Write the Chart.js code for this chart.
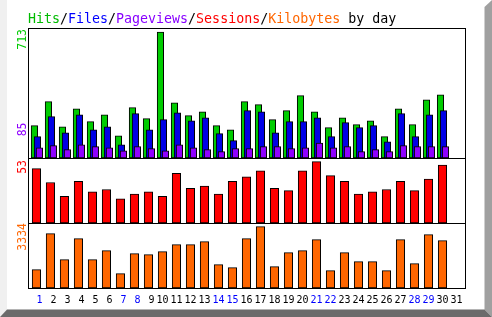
<!DOCTYPE html>
<html>
<head>
<meta charset="utf-8">
<title>Hits/Files/Pageviews/Sessions/Kilobytes by day</title>
<script src="https://cdn.jsdelivr.net/npm/chart.js@4/dist/chart.umd.min.js"></script>
<style>
html, body { margin: 0; padding: 0; background: #fff; }
#wrap { position: relative; width: 492px; height: 317px; overflow: hidden; }
.edge { position: absolute; left: 0; top: 0; width: 492px; height: 317px; }
#edgeLeft { background: #f0f0f0; clip-path: polygon(0 0, 7px 0, 7px 309.5px, 0 317px); }
#edgeRight { background: #a0a0a0; clip-path: polygon(484.5px 7px, 492px 0, 492px 317px, 484.5px 309.5px); }
#edgeBottom { background: #6b6b6b; clip-path: polygon(7px 309.5px, 484.5px 309.5px, 492px 317px, 0 317px); }
canvas { position: absolute; left: 0; top: 0; }
</style>
</head>
<body>
<div id="wrap">
  <div class="edge" id="edgeLeft"></div>
  <div class="edge" id="edgeRight"></div>
  <div class="edge" id="edgeBottom"></div>
  <canvas id="dayChart" width="492" height="317"></canvas>
</div>
<script>
// Data

var days = [1,2,3,4,5,6,7,8,9,10,11,12,13,14,15,16,17,18,19,20,21,22,23,24,25,26,27,28,29,30,31];
var weekendDays = [1,7,8,14,15,21,22,28,29];

var hits      = [183,319,177,279,206,245,126,285,223,713,313,240,262,183,160,319,302,217,268,353,262,172,228,189,211,121,279,189,330,358,0];
var files     = [121,234,143,245,160,177,75,251,160,217,256,211,228,138,98,268,262,143,206,206,228,121,200,172,183,92,251,121,245,268,0];
var pageviews = [58,70,47,75,64,58,41,64,53,41,75,58,47,36,53,53,64,64,53,58,85,58,64,36,47,36,70,64,64,64,0];
var sessions  = [47,35,23,36,27,29,21,25,27,23,43,30,32,25,36,40,45,30,28,45,53,41,36,25,27,29,36,28,38,50,0];
var kilobytes = [997,2953,1540,2682,1540,2029,779,1866,1812,1975,2355,2355,2519,1268,1105,2682,3334,1160,1921,2029,2627,942,1921,1431,1431,942,2627,1323,2899,2573,0];

// max labels on the left side
var maxLabels = ['713', '85', '53', '3334'];

var titleParts = [
  ['Hits', '#00bb00'], ['/', '#000'], ['Files', '#0000ff'], ['/', '#000'],
  ['Pageviews', '#8800ff'], ['/', '#000'], ['Sessions', '#ff0000'], ['/', '#000'],
  ['Kilobytes', '#ff6600'], [' by day', '#000']
];

// Colours
var GREEN = '#00cc00', BLUE = '#0000e6', PURPLE = '#9000ff', RED = '#ff0000', ORANGE = '#ff6600';
var MONO = '"DejaVu Sans Mono", "Liberation Mono", monospace';

var xMin = 0.4, xMax = 31.68;
var plotWidth = 438;

function points(values) {
  return days.map(function(d, i) { return { x: d, y: values[i] }; });
}

// hidden x axis shifted by some pixels, so the bars overlap like the original
function shiftedAxis(px) {
  var u = px * (xMax - xMin) / plotWidth;
  return { type: 'linear', display: false, offset: false, min: xMin - u, max: xMax - u };
}

function bars(label, values, color, xId, yId, thick, order) {
  return {
    label: label,
    data: points(values),
    backgroundColor: color,
    borderColor: '#000',
    borderWidth: 1,
    borderSkipped: false,
    grouped: false,
    barThickness: thick,
    xAxisID: xId,
    yAxisID: yId,
    order: order
  };
}

// Frames around each panel
var panelFrames = {
  id: 'panelFrames',
  afterDatasetsDraw: function(chart) {
    var ctx = chart.ctx, a = chart.chartArea;
    ctx.save();
    ctx.strokeStyle = '#000';
    ctx.lineWidth = 1;
    ['yTop', 'yMid', 'yBot'].forEach(function(id) {
      var s = chart.scales[id];
      ctx.strokeRect(Math.round(a.left) + 0.5, Math.round(s.top) + 0.5,
        Math.round(a.right - a.left) - 1, Math.round(s.bottom - s.top));
    });
    ctx.restore();
  }
};

// Title + rotated max values
var sideText = {
  id: 'sideText',
  afterDraw: function(chart) {
    var ctx = chart.ctx, a = chart.chartArea;
    ctx.save();
    ctx.font = '13.3px ' + MONO;
    ctx.textBaseline = 'alphabetic';
    ctx.textAlign = 'left';
    var x = a.left;
    titleParts.forEach(function(p) {
      ctx.fillStyle = p[1];
      ctx.fillText(p[0], x, 22.5);
      x += ctx.measureText(p[0]).width;
    });

    // anchor = top end of the rotated text
    var sTop = chart.scales.yTop, sMid = chart.scales.yMid, sBot = chart.scales.yBot;
    var spots = [
      [maxLabels[0], GREEN, sTop.top + 1],
      [maxLabels[1], PURPLE, sTop.bottom - 35.5],
      [maxLabels[2], RED, sMid.top + 2],
      [maxLabels[3], ORANGE, sBot.top]
    ];
    ctx.font = '11.5px ' + MONO;
    ctx.textAlign = 'right';
    ctx.textBaseline = 'middle';
    spots.forEach(function(s) {
      ctx.save();
      ctx.translate(23, s[2]);
      ctx.rotate(-Math.PI / 2);
      ctx.fillStyle = s[1];
      ctx.fillText(s[0], 0, 0);
      ctx.restore();
    });
    ctx.restore();
  }
};

var ctx = document.getElementById('dayChart').getContext('2d');

var chart = new Chart(ctx, {
  type: 'bar',
  data: {
    datasets: [
      bars('Hits', hits, GREEN, 'xG', 'yTop', 6.5, 3),
      bars('Files', files, BLUE, 'xB', 'yTop', 6.5, 2),
      bars('Pageviews', pageviews, PURPLE, 'xP', 'yTop', 6.5, 1),
      bars('Sessions', sessions, RED, 'x', 'yMid', 8.5, 0),
      bars('Kilobytes', kilobytes, ORANGE, 'x', 'yBot', 8.5, 0)
    ]
  },
  options: {
    responsive: false,
    animation: false,
    layout: { padding: { left: 28, right: 26, top: 28, bottom: 9 } },
    plugins: {
      legend: { display: false },
      title: { display: false },
      tooltip: { enabled: false }
    },
    scales: {
      x: {
        type: 'linear',
        offset: false,
        min: xMin,
        max: xMax,
        grid: { display: false, drawTicks: false },
        border: { display: false },
        afterBuildTicks: function(scale) {
          scale.ticks = days.map(function(d) { return { value: d }; });
        },
        afterFit: function(scale) { scale.height = 20; },
        ticks: {
          autoSkip: false,
          maxRotation: 0,
          padding: 6,
          font: { family: MONO, size: 10 },
          color: function(c) {
            return weekendDays.indexOf(c.tick.value) >= 0 ? '#0000ff' : '#000';
          },
          callback: function(v) {
            return v < 10 ? ' ' + v : String(v);
          }
        }
      },
      xG: shiftedAxis(-2),
      xB: shiftedAxis(1),
      xP: shiftedAxis(3),
      yTop: { position: 'left', stack: 'panels', stackWeight: 2, weight: 3, min: 0, max: 736, display: false },
      yMid: { position: 'left', stack: 'panels', stackWeight: 1, weight: 2, min: 0, max: 56.2, display: false },
      yBot: { position: 'left', stack: 'panels', stackWeight: 1, weight: 1, min: 0, max: 3535, display: false }
    }
  },
  plugins: [panelFrames, sideText]
});
</script>
</body>
</html>
